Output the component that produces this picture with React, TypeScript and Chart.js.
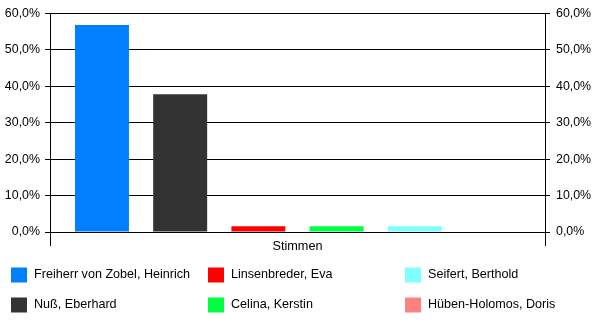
import React, { useEffect, useRef } from "react";
import { Chart, registerables } from "chart.js";

Chart.register(...registerables);

const categories = ["Stimmen"];
const candidates = [
  "Freiherr von Zobel, Heinrich",
  "Nuß, Eberhard",
  "Linsenbreder, Eva",
  "Celina, Kerstin",
  "Seifert, Berthold",
  "Hüben-Holomos, Doris",
];
const shares = [56.8, 37.8, 1.6, 1.6, 1.6, 0];
const colors = ["#0080FF", "#333333", "#FF0000", "#00FF40", "#80FFFF", "#FF8080"];
const yTicksMin = 0;
const yTicksMax = 60;
const yTickStep = 10;

const FONT = "'Liberation Sans', Arial, sans-serif";

const fmt = (v: number) => v.toFixed(1).replace(".", ",") + "%";

const legendPlugin = {
  id: "gridLegend",
  afterDraw(chart: any) {
    const ctx = chart.ctx;
    ctx.save();
    ctx.font = `12.6px ${FONT}`;
    ctx.textBaseline = "middle";
    ctx.textAlign = "left";
    chart.data.datasets.forEach((ds: any, i: number) => {
      const col = Math.floor(i / 2);
      const row = i % 2;
      const bx = 11 + col * 197;
      const cy = 275 + row * 30;
      ctx.fillStyle = ds.backgroundColor;
      ctx.fillRect(bx, cy - 7.5, 16, 15);
      ctx.fillStyle = "#000";
      ctx.fillText(ds.label, bx + 23, cy);
    });
    ctx.restore();
  },
};

export default function App() {
  const ref = useRef<HTMLCanvasElement>(null);
  useEffect(() => {
    if (!ref.current) return;
    Chart.defaults.font.family = FONT;
    Chart.defaults.font.size = 12.4;
    Chart.defaults.color = "#000";
    const chart = new Chart(ref.current, {
      type: "bar",
      data: {
        labels: categories,
        datasets: candidates.map((name, i) => ({
          label: name,
          data: [shares[i]],
          backgroundColor: colors[i],
          borderWidth: 0,
          categoryPercentage: 0.948,
          barPercentage: 0.69,
          yAxisID: "y",
        })),
      },
      options: {
        responsive: false,
        animation: false,
        devicePixelRatio: 1,
        layout: { padding: { top: 10, left: 0, right: 0, bottom: 0 } },
        plugins: { legend: { display: false }, tooltip: { enabled: false } },
        scales: {
          x: {
            offset: true,
            grid: { color: "#000", lineWidth: 1, offset: true, tickLength: 14, drawTicks: true },
            border: { display: false },
            ticks: { padding: -7, font: { size: 12.7, family: FONT }, color: "#000" },
            afterFit: (s: any) => { s.height = 94; },
          },
          y: {
            position: "left",
            min: yTicksMin,
            max: yTicksMax,
            grid: { color: "#000", lineWidth: 1, tickLength: 5 },
            border: { display: false },
            ticks: { stepSize: yTickStep, padding: 5, callback: (v: any) => fmt(Number(v)), color: "#000" },
            afterFit: (s: any) => { s.width = 50; },
          },
          y1: {
            position: "right",
            min: yTicksMin,
            max: yTicksMax,
            grid: { color: "#000", lineWidth: 1, tickLength: 5, drawOnChartArea: false },
            border: { display: false },
            ticks: { stepSize: yTickStep, padding: 6, callback: (v: any) => fmt(Number(v)), color: "#000" },
            afterFit: (s: any) => { s.width = 55; },
          },
        },
      },
      plugins: [legendPlugin],
    } as any);
    return () => chart.destroy();
  }, []);
  return (
    <div style={{ position: "absolute", left: 0, top: 0, width: 600, height: 326, background: "#fff" }}>
      <canvas ref={ref} width={600} height={326} />
    </div>
  );
}
